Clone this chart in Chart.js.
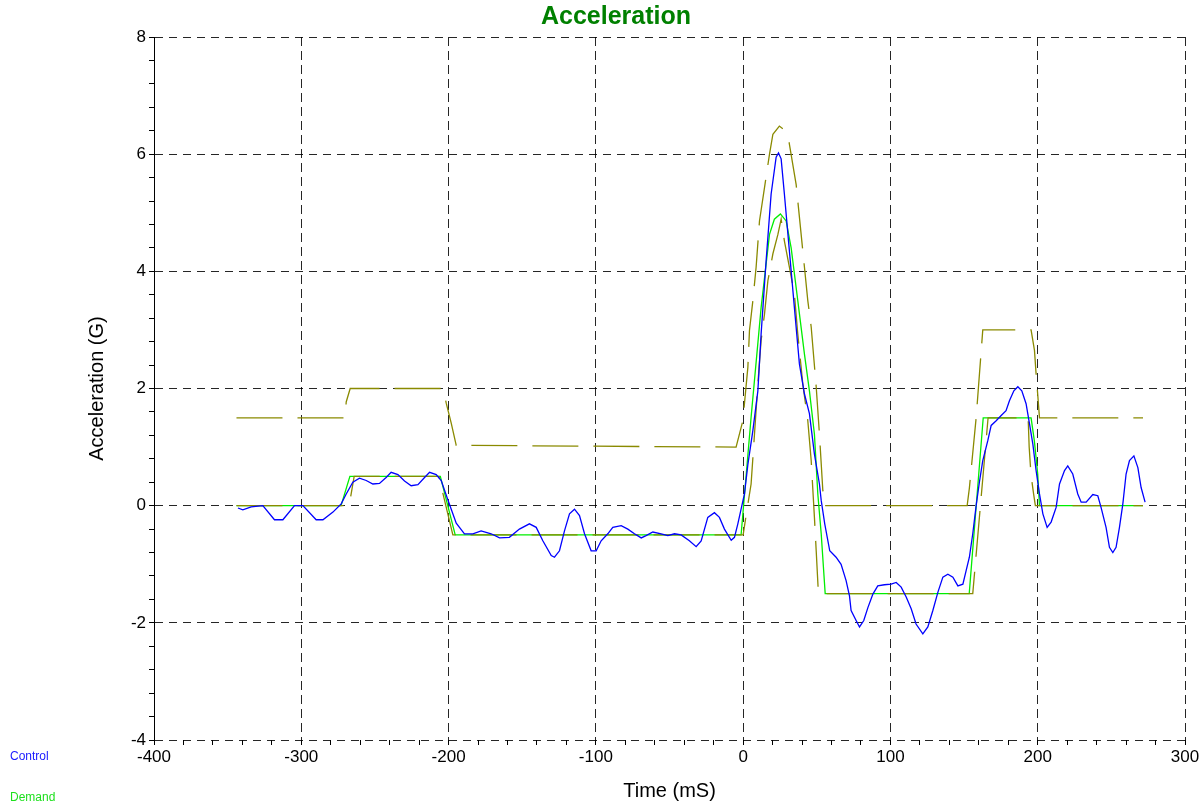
<!DOCTYPE html>
<html>
<head>
<meta charset="utf-8">
<title>Acceleration</title>
<script src="https://cdn.jsdelivr.net/npm/chart.js@4/dist/chart.umd.min.js"></script>
<style>
  body { margin: 0; background: #fff; }
  #wrap { position: relative; width: 1203px; height: 805px; }
  .legend { position: absolute; left: 10px; font: 12px Arial, "Liberation Sans", sans-serif; }
</style>
</head>
<body>
<div id="wrap">
  <canvas id="accelChart" width="1203" height="805"></canvas>
  <div class="legend" style="top: 749px; color: #1a1aff;">Control</div>
  <div class="legend" style="top: 790px; color: #1de01d;">Demand</div>
</div>
<script>
// time axis (mS) and acceleration (G)
const ctrlX = [-343, -339.7, -334, -326.1, -318.2, -312.5, -304.6, -298.9, -289.9, -285.3, -278.5, -272.9, -269.5, -265, -260.5, -255.9, -251.4, -246.9, -242.4, -239, -234.4, -229.9, -225.4, -220.8, -216.3, -212.9, -208.4, -205, -200.5, -194.8, -189.2, -183.5, -177.9, -171.1, -165.4, -158.7, -151.9, -145.1, -140.5, -136, -130.3, -128.1, -124.7, -121.3, -117.9, -114.5, -111.1, -107.7, -103.2, -99.8, -96.4, -91.9, -88.5, -82.8, -78.3, -73.8, -69.2, -65.9, -61.3, -55.7, -51.1, -46.6, -42.1, -36.5, -31.9, -28.5, -24, -19.5, -16.1, -12.7, -8.1, -5.9, -3.6, -1.4, 0.9, 3.2, 6.6, 10, 12.2, 15.6, 19, 22.4, 24, 25.8, 28, 31.4, 34.8, 38.2, 41.6, 45, 48.4, 51.8, 53, 55.4, 58.8, 63.1, 66.5, 69.9, 72.2, 73.3, 76.7, 79, 81.9, 84.7, 88.1, 91.4, 95.9, 100.5, 103.9, 107.3, 110.7, 114.1, 117.4, 122, 125.4, 128.8, 132.2, 135.6, 139, 142.4, 145.8, 149.2, 151.4, 153.6, 155.9, 158.2, 160.4, 162.7, 166.1, 168.4, 171.8, 175.2, 178.5, 180.8, 183.8, 186.5, 189.2, 192.1, 194.4, 196.7, 198.9, 201.2, 203.5, 206.4, 209.1, 212.5, 214.8, 218.2, 220.4, 223.8, 227.2, 229.5, 232.9, 237.4, 240.8, 243, 246.4, 248.7, 251, 253.2, 255.5, 257.8, 260, 262.3, 265.3, 268, 270.2, 272.9];
const ctrlY = [-0.04, -0.07, -0.02, 0, -0.24, -0.24, 0, 0, -0.24, -0.24, -0.11, 0.03, 0.2, 0.4, 0.47, 0.43, 0.37, 0.38, 0.48, 0.57, 0.53, 0.42, 0.34, 0.36, 0.48, 0.57, 0.53, 0.43, 0.1, -0.3, -0.48, -0.48, -0.43, -0.48, -0.55, -0.54, -0.4, -0.31, -0.37, -0.6, -0.85, -0.88, -0.77, -0.43, -0.14, -0.06, -0.17, -0.48, -0.77, -0.77, -0.6, -0.48, -0.37, -0.34, -0.4, -0.48, -0.55, -0.51, -0.45, -0.48, -0.51, -0.48, -0.5, -0.6, -0.7, -0.6, -0.2, -0.12, -0.2, -0.4, -0.59, -0.54, -0.31, -0.06, 0.2, 0.7, 1.28, 1.96, 2.93, 4.18, 5.32, 5.95, 6.02, 5.92, 5.32, 4.35, 3.38, 2.42, 1.91, 1.57, 0.88, 0.37, 0.09, -0.31, -0.77, -0.88, -1.0, -1.28, -1.54, -1.79, -1.96, -2.07, -1.96, -1.74, -1.51, -1.37, -1.35, -1.34, -1.31, -1.39, -1.56, -1.76, -2.02, -2.19, -2.07, -1.79, -1.48, -1.22, -1.17, -1.22, -1.37, -1.34, -1.11, -0.88, -0.48, 0, 0.4, 0.77, 1.11, 1.37, 1.45, 1.54, 1.62, 1.79, 1.96, 2.03, 1.96, 1.74, 1.4, 1.05, 0.6, 0.2, -0.14, -0.37, -0.28, -0.03, 0.37, 0.6, 0.68, 0.54, 0.2, 0.06, 0.06, 0.19, 0.17, -0.03, -0.37, -0.71, -0.8, -0.71, -0.37, 0.03, 0.54, 0.77, 0.85, 0.65, 0.31, 0.06];

const demandX = [-344, -273, -267, -205.6, -195.5, -1.4, 5.4, 12.2, 17.9, 21.2, 25.3, 29.2, 32.6, 37.1, 41.6, 45, 48.4, 50.7, 53, 55.7, 153.5, 163, 195.5, 197.7, 200, 201.2, 271.5];
const demandY = [0, 0, 0.5, 0.5, -0.5, -0.5, 1.51, 3.38, 4.63, 4.89, 4.98, 4.86, 4.4, 3.5, 2.59, 1.96, 1.22, 0.2, -0.48, -1.5, -1.5, 1.5, 1.5, 1.11, 0.54, 0, 0];

const lowerX = [-344, -267.5, -264.1, -206.6, -197.1, 0, 2, 5.4, 7.7, 10, 12.2, 14.5, 16.8, 20.2, 23.6, 25.8, 28, 31.4, 34.8, 37.1, 40.5, 43.9, 46.2, 48.4, 49.6, 51.1, 155.9, 166.3, 193.5, 194.2, 195.4, 197.2, 198.4, 271.5];
const lowerY = [0, 0, 0.5, 0.5, -0.5, -0.5, -0.17, 0.37, 1.22, 2.08, 2.82, 3.27, 3.84, 4.3, 4.63, 4.89, 4.52, 4.07, 3.61, 2.93, 2.08, 1.45, 0.77, -0.2, -0.77, -1.5, -1.5, 1.5, 1.5, 1.0, 0.54, 0.2, 0, 0];

const upperX = [-344, -270.2, -269.5, -266.8, -203.7, -201.6, -198.2, -194.8, -4.8, -0.2, 3.2, 4.3, 6.6, 8.8, 11.1, 14.5, 17.9, 20.2, 24.6, 27.6, 31.2, 36, 43.9, 46.2, 49.6, 51.8, 54.1, 55.2, 152.1, 153.6, 158.2, 162.7, 195.5, 197.8, 198.9, 200, 201.2, 271.5];
const upperY = [1.5, 1.5, 1.77, 2.0, 2.0, 1.75, 1.41, 1.03, 1.0, 1.45, 2.36, 2.99, 3.5, 4.07, 4.86, 5.43, 6.0, 6.34, 6.48, 6.42, 6.2, 5.48, 3.5, 3.05, 2.03, 1.22, 0.26, 0, 0, 0.3, 1.5, 3.0, 3.0, 2.65, 2.25, 1.9, 1.5, 1.5];

const fontFamily = "Arial, 'Liberation Sans', sans-serif";
const olive = "#8a8a00";

function toPoints(xs, ys) {
  return xs.map((x, i) => ({ x: x, y: ys[i] }));
}

function isMajor(v, step) {
  return Math.abs(v / step - Math.round(v / step)) < 1e-6;
}

window.onload = () => {
  const ctx = document.getElementById("accelChart");

  new Chart(ctx, {
    type: 'line',
    data: {
      datasets: [
        {
          label: 'Control',
          data: toPoints(ctrlX, ctrlY),
          borderColor: '#0000ff',
          borderWidth: 1.3,
          pointRadius: 0,
          order: 0
        },
        {
          label: 'Lower',
          data: toPoints(lowerX, lowerY),
          borderColor: olive,
          borderWidth: 1.3,
          borderDash: [46, 15],
          pointRadius: 0,
          order: 1
        },
        {
          label: 'Upper',
          data: toPoints(upperX, upperY),
          borderColor: olive,
          borderWidth: 1.3,
          borderDash: [46, 15],
          pointRadius: 0,
          order: 1
        },
        {
          label: 'Demand',
          data: toPoints(demandX, demandY),
          borderColor: '#00ee00',
          borderWidth: 1.3,
          pointRadius: 0,
          order: 2
        }
      ]
    },
    options: {
      responsive: false,
      animation: false,
      layout: {
        padding: { left: 47, right: 18, top: 0, bottom: 0 }
      },
      plugins: {
        legend: { display: false },
        tooltip: { enabled: false },
        title: {
          display: true,
          text: 'Acceleration',
          color: '#008000',
          font: { family: fontFamily, size: 25, weight: 'bold' },
          padding: { top: 2, bottom: 5 }
        }
      },
      scales: {
        x: {
          type: 'linear',
          min: -400,
          max: 300,
          afterFit: (scale) => { scale.height = 65; },
          ticks: {
            stepSize: 20,
            autoSkip: false,
            maxRotation: 0,
            padding: 2,
            color: '#000',
            font: { family: fontFamily, size: 17 },
            callback: (value) => isMajor(value, 100) ? value : ''
          },
          grid: {
            color: (c) => isMajor(c.tick.value, 100) ? 'rgba(0,0,0,0.85)' : 'rgba(0,0,0,0)',
            tickColor: '#000',
            tickLength: 5,
            tickBorderDash: []
          },
          border: { display: false, dash: [9, 5] },
          title: {
            display: true,
            text: 'Time (mS)',
            color: '#000',
            font: { family: fontFamily, size: 20 },
            padding: { top: 0, bottom: 2 }
          }
        },
        y: {
          min: -4,
          max: 8,
          afterFit: (scale) => { scale.width = 107; },
          ticks: {
            stepSize: 0.4,
            autoSkip: false,
            padding: 3,
            color: '#000',
            font: { family: fontFamily, size: 17 },
            callback: (value) => isMajor(value, 2) ? Math.round(value) : ''
          },
          grid: {
            color: (c) => isMajor(c.tick.value, 2) ? 'rgba(0,0,0,0.85)' : 'rgba(0,0,0,0)',
            tickColor: '#000',
            tickLength: 5,
            tickBorderDash: []
          },
          border: { display: true, color: '#000', width: 1, dash: [8, 6] },
          title: {
            display: true,
            text: 'Acceleration (G)',
            color: '#000',
            font: { family: fontFamily, size: 20 },
            padding: { top: 38, bottom: 0 }
          }
        }
      }
    }
  });
};
</script>
</body>
</html>
